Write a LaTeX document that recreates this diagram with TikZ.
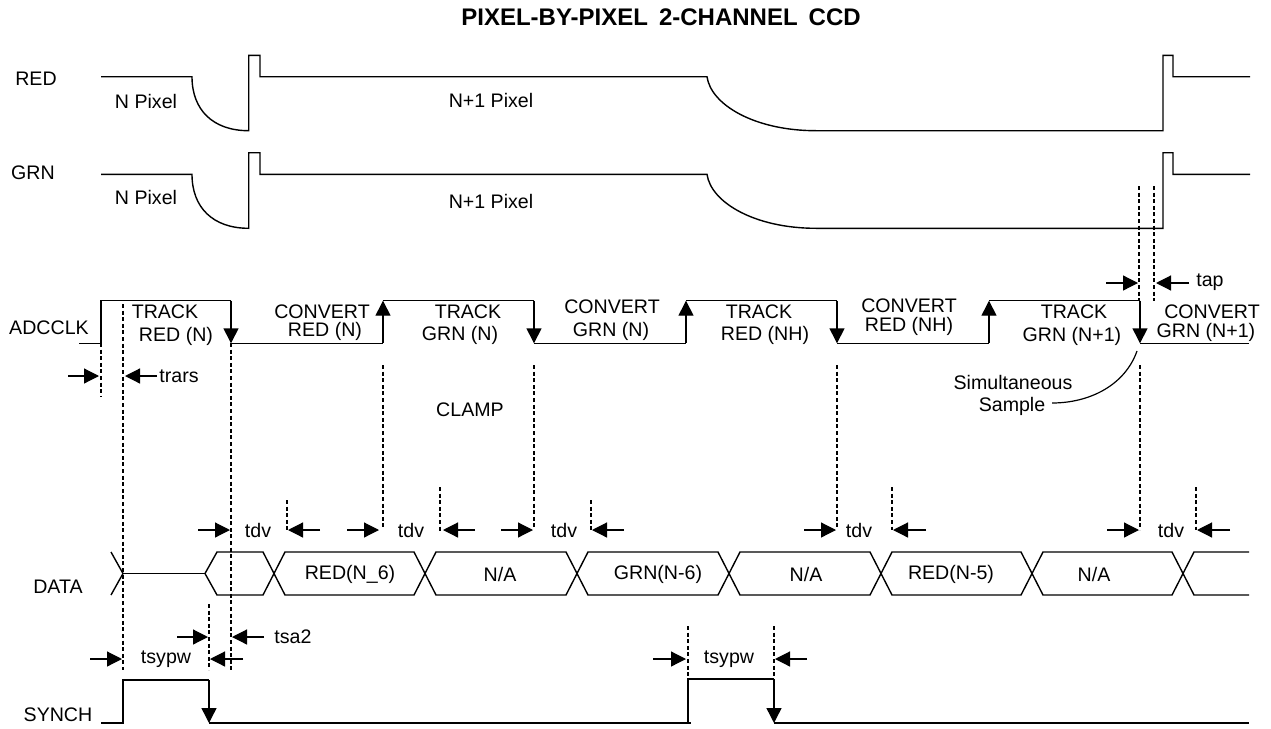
\documentclass[tikz,border=0pt]{standalone}
\usepackage{fontspec}
\setmainfont{Liberation Sans}
\usetikzlibrary{arrows.meta}
\tikzset{
  wave/.style={line width=1.4pt,line join=miter},
  thin wave/.style={line width=1.2pt},
  guide/.style={line width=1.2pt,dash pattern=on 4pt off 2.6pt},
  edge down/.style={line width=1.4pt,-{Triangle[length=15pt,width=15pt]}},
  dim/.style={line width=1.2pt,-{Triangle[length=15pt,width=15pt]}},
  lbl/.style={inner sep=0pt,font=\fontsize{19.6}{22}\selectfont,anchor=center},
  ttl/.style={inner sep=0pt,font=\fontsize{24}{28}\selectfont\bfseries,anchor=center}
}
\begin{document}
\begin{tikzpicture}[x=1pt,y=-1pt]
\useasboundingbox[fill=white] (0,0) rectangle (1271,728);
% title
\node[ttl] (title) at (661,17.5) {\spaceskip=11pt PIXEL-BY-PIXEL 2-CHANNEL CCD};
% RED
\draw[wave] (101,76.7) -- (192,76.7) .. controls (192,110) and (213,130.7) .. (248.7,130.7) -- (248.7,55.3) -- (260,55.3) -- (260,76.7) -- (707,76.7) .. controls (711,105) and (755,130.7) .. (816,130.7) -- (1163,130.7) -- (1163,55.3) -- (1173,55.3) -- (1173,76.7) -- (1250,76.7);
% GRN
\draw[wave] (101,174.3) -- (192,174.3) .. controls (192,207.6) and (213,228.3) .. (248.7,228.3) -- (248.7,152.7) -- (260,152.7) -- (260,174.3) -- (707,174.3) .. controls (711,202.6) and (755,228.3) .. (816,228.3) -- (1163,228.3) -- (1163,152.7) -- (1173,152.7) -- (1173,174.3) -- (1250,174.3);
\node[lbl] (redl) at (36,79) {RED};
\node[lbl] (grnl) at (33,173) {GRN};
\node[lbl] (np1) at (146,101) {N Pixel};
\node[lbl] (np2) at (146,197) {N Pixel};
\node[lbl] (npp1) at (491,100) {N+1 Pixel};
\node[lbl] (npp2) at (491,201) {N+1 Pixel};
% tap
\draw[guide] (1139,186) -- (1139,300);
\draw[guide] (1154,186) -- (1154,301);
\draw[dim] (1106,283) -- (1138,283);
\draw[dim] (1189,283) -- (1156,283);
\node[lbl] (tap) at (1210,282) {tap};
% ADCCLK
\draw[wave] (79,343.3) -- (101,343.3) -- (101,300.7) -- (231,300.7);
\draw[edge down] (231,300.7) -- (231,343.3);
\draw[wave] (231,343.3) -- (383,343.3);
\draw[edge down] (383,343.3) -- (383,300.7);
\draw[wave] (383,300.7) -- (534,300.7);
\draw[edge down] (534,300.7) -- (534,343.3);
\draw[wave] (534,343.3) -- (686,343.3);
\draw[edge down] (686,343.3) -- (686,300.7);
\draw[wave] (686,300.7) -- (837,300.7);
\draw[edge down] (837,300.7) -- (837,343.3);
\draw[wave] (837,343.3) -- (989,343.3);
\draw[edge down] (989,343.3) -- (989,300.7);
\draw[wave] (989,300.7) -- (1140,300.7);
\draw[edge down] (1140,300.7) -- (1140,343.3);
\draw[wave] (1140,343.3) -- (1249,343.3);
\node[lbl] (adc) at (49,328) {ADCCLK};
\node[lbl] (t1a) at (165,312) {TRACK};
\node[lbl] (t1b) at (176,336) {RED (N)};
\node[lbl] (c1a) at (322,312) {CONVERT};
\node[lbl] (c1b) at (325,331) {RED (N)};
\node[lbl] (t2a) at (468,312) {TRACK};
\node[lbl] (t2b) at (460,335) {GRN (N)};
\node[lbl] (c2a) at (612,307) {CONVERT};
\node[lbl] (c2b) at (611,331) {GRN (N)};
\node[lbl] (t3a) at (759,312) {TRACK};
\node[lbl] (t3b) at (765,335) {RED (NH)};
\node[lbl] (c3a) at (909,306) {CONVERT};
\node[lbl] (c3b) at (909,326) {RED (NH)};
\node[lbl] (t4a) at (1074,312) {TRACK};
\node[lbl] (t4b) at (1072,336) {GRN (N+1)};
\node[lbl] (c4a) at (1212,312) {CONVERT};
\node[lbl] (c4b) at (1206,332) {GRN (N+1)};
\node[lbl] (clamp) at (470,410) {CLAMP};
\node[lbl] (sim1) at (1013,382) {Simultaneous};
\node[lbl] (sim2) at (1012,406) {Sample};
\draw[thin wave] (1137,351) .. controls (1125,385) and (1090,403) .. (1052,403);
% guides
\draw[guide] (101,343) -- (101,397);
\draw[guide] (123,304) -- (123,670);
\draw[guide] (231,343) -- (231,670);
\draw[guide] (383,365) -- (383,527);
\draw[guide] (534,365) -- (534,528);
\draw[guide] (837,365) -- (837,528);
\draw[guide] (1140,365) -- (1140,530);
\draw[guide] (287,500) -- (287,530);
\draw[guide] (440,487) -- (440,531);
\draw[guide] (591,500) -- (591,530);
\draw[guide] (892,487) -- (892,530);
\draw[guide] (1196,487) -- (1196,530);
\draw[guide] (209,604) -- (209,670);
\draw[guide] (688,626) -- (688,679);
\draw[guide] (774,626) -- (774,679);
% trars
\draw[dim] (68,376) -- (99,376);
\draw[dim] (157,376) -- (125,376);
\node[lbl] (trars) at (179,376) {trars};
% tdv
\draw[dim] (198,530) -- (230,530);
\node[lbl] (tdv1) at (258,530) {tdv};
\draw[dim] (320,530) -- (288,530);
\draw[dim] (347,530) -- (379,530);
\node[lbl] (tdv2) at (411,530) {tdv};
\draw[dim] (475,530) -- (443,530);
\draw[dim] (501,530) -- (533,530);
\node[lbl] (tdv3) at (564,530) {tdv};
\draw[dim] (624,530) -- (592,530);
\draw[dim] (804,530) -- (836,530);
\node[lbl] (tdv4) at (859,530) {tdv};
\draw[dim] (926,530) -- (893,530);
\draw[dim] (1107,530) -- (1139,530);
\node[lbl] (tdv5) at (1171,530) {tdv};
\draw[dim] (1230,530) -- (1197,530);
% DATA
\node[lbl] (datal) at (58,587) {DATA};
\draw[wave] (111,552) -- (123,573.5) -- (111,595);
\draw[thin wave] (123,573.5) -- (205,573.5);
\draw[wave] (205,573.5) -- (217,552) -- (263,552) -- (285,595) -- (414,595) -- (436,552) -- (566,552) -- (588,595) -- (718,595) -- (740,552) -- (870,552) -- (892,595) -- (1021,595) -- (1043,552) -- (1172,552) -- (1194,595) -- (1249,595);
\draw[wave] (205,573.5) -- (217,595) -- (263,595) -- (285,552) -- (414,552) -- (436,595) -- (566,595) -- (588,552) -- (718,552) -- (740,595) -- (870,595) -- (892,552) -- (1021,552) -- (1043,595) -- (1172,595) -- (1194,552) -- (1249,552);
\node[lbl] (d1) at (350,574) {RED(N\_6)};
\node[lbl] (d2) at (500,574) {N/A};
\node[lbl] (d3) at (658,574) {GRN(N-6)};
\node[lbl] (d4) at (806,574) {N/A};
\node[lbl] (d5) at (951,574) {RED(N-5)};
\node[lbl] (d6) at (1094,574) {N/A};
% tsa2, tsypw
\draw[dim] (177,637) -- (208,637);
\draw[dim] (264,637) -- (232,637);
\node[lbl] (tsa) at (293,637) {tsa2};
\draw[dim] (90,659) -- (122,659);
\node[lbl] (tsy1) at (166,659) {tsypw};
\draw[dim] (243,659) -- (210,659);
\draw[dim] (653,659) -- (686,659);
\node[lbl] (tsy2) at (729,659) {tsypw};
\draw[dim] (807,659) -- (775,659);
% SYNCH
\node[lbl] (synch) at (58,715) {SYNCH};
\draw[wave] (101,723) -- (123,723) -- (123,680) -- (209,680);
\draw[edge down] (209,680) -- (209,723);
\draw[wave] (209,723) -- (691,723);
\draw[wave] (688,723) -- (688,679) -- (774,679);
\draw[edge down] (774,679) -- (774,723);
\draw[wave] (774,723) -- (1249,723);
\end{tikzpicture}
\end{document}
